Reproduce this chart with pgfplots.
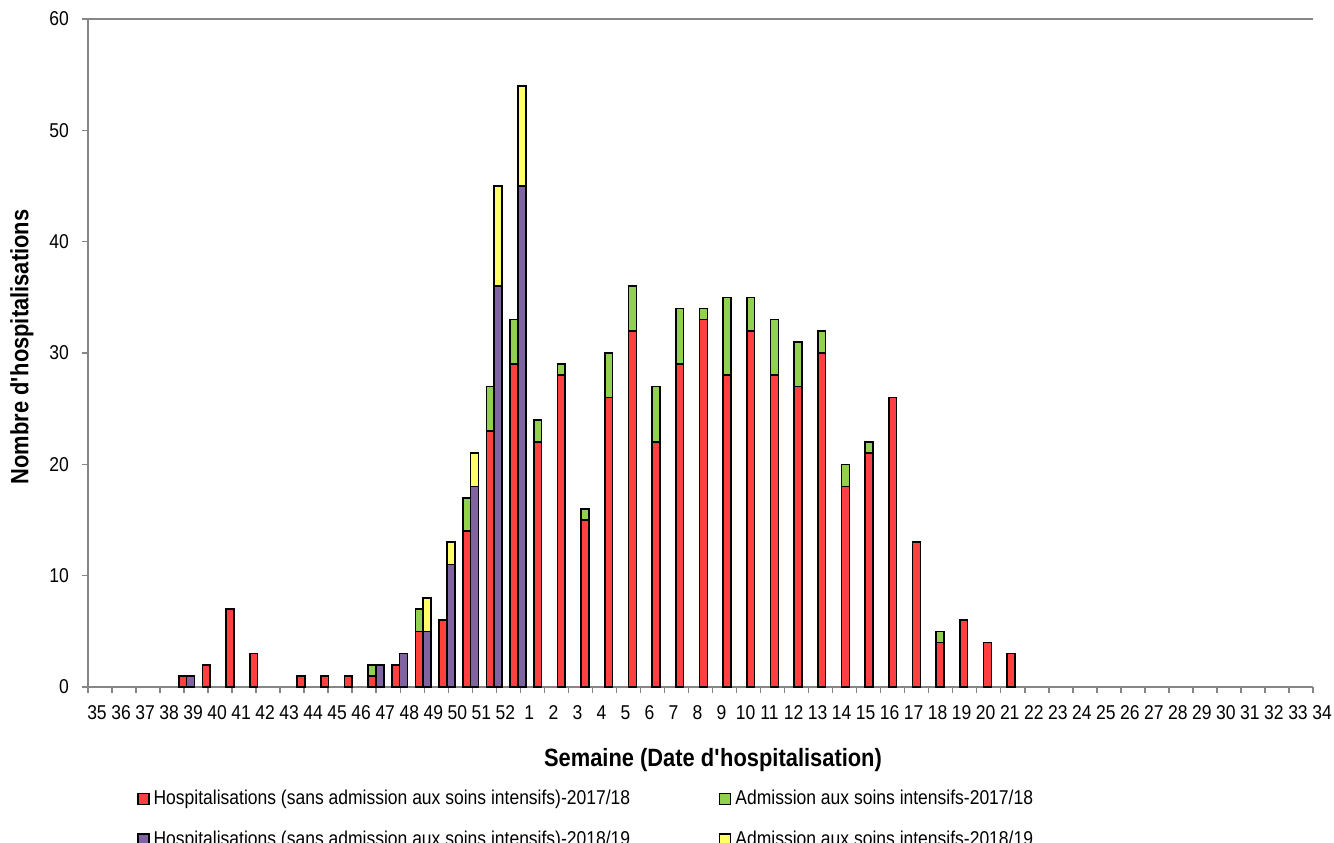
\documentclass[border=0pt]{standalone}
\usepackage{fontspec}
\setmainfont[FakeStretch=0.875]{Liberation Sans}
\usepackage{pgfplots}
\pgfplotsset{compat=1.18}
\usepackage{pgfplotstable}

\definecolor{cred}{HTML}{FF4040}
\definecolor{cgreen}{HTML}{92D050}
\definecolor{cpurple}{HTML}{8064A2}
\definecolor{cyellow}{HTML}{FFFF66}
\definecolor{axisgray}{HTML}{868686}

\pgfplotstableread{
j red green
4 1 0
5 2 0
6 7 0
7 3 0
9 1 0
10 1 0
11 1 0
12 1 1
13 2 0
14 5 2
15 6 0
16 14 3
17 23 4
18 29 4
19 22 2
20 28 1
21 15 1
22 26 4
23 32 4
24 22 5
25 29 5
26 33 1
27 28 7
28 32 3
29 28 5
30 27 4
31 30 2
32 18 2
33 21 1
34 26 0
35 13 0
36 4 1
37 6 0
38 4 0
39 3 0
}\dataA

\pgfplotstableread{
j purple yellow
4 1 0
12 2 0
13 3 0
14 5 3
15 11 2
16 18 3
17 36 9
18 45 9
}\dataB

\pgfplotsset{base/.style={scale only axis, width=612.5pt, height=334pt,
  xmin=0, xmax=51.7543, ymin=0, ymax=60, at={(0pt,0pt)}, anchor=south west, clip=false,
  ybar stacked, bar width=3.9pt}}

\newcommand{\tickfont}{\fontsize{10}{12}\selectfont}

\begin{document}
\begin{tikzpicture}
\begin{axis}[base, bar shift=0pt,
  axis x line*=bottom, axis y line*=left,
  axis line style={draw=axisgray, line width=0.75pt},
  tick align=outside, major tick length=3pt,
  every tick/.style={axisgray, line width=0.75pt},
  xtick={0, 1.0148, 2.0296, 3.0444, 4.0592, 5.0740, 6.0887, 7.1035, 8.1183, 9.1331, 10.1479, 11.1627, 12.1775, 13.1923, 14.2071, 15.2219, 16.2366, 17.2514, 18.2662, 19.2810, 20.2958, 21.3106, 22.3254, 23.3402, 24.3550, 25.3698, 26.3845, 27.3993, 28.4141, 29.4289, 30.4437, 31.4585, 32.4733, 33.4881, 34.5029, 35.5177, 36.5324, 37.5472, 38.5620, 39.5768, 40.5916, 41.6064, 42.6212, 43.6360, 44.6508, 45.6656, 46.6803, 47.6951, 48.7099, 49.7247, 50.7395, 51.7543},
  xticklabels={35,36,37,38,39,40,41,42,43,44,45,46,47,48,49,50,51,52,1,2,3,4,5,6,7,8,9,10,11,12,13,14,15,16,17,18,19,20,21,22,23,24,25,26,27,28,29,30,31,32,33,34},
  ytick={0,10,...,60},
  /pgf/number format/assume math mode=true,
  xticklabel style={font=\tickfont, xshift=4.5pt, yshift=-2.7pt},
  yticklabel style={font=\tickfont, xshift=-3pt},
  ]
\addplot[fill=cred, draw=black, line width=0.8pt] table[x=j, y=red] {\dataA};
\addplot[fill=cgreen, draw=black, line width=0.8pt] table[x=j, y=green] {\dataA};
\draw[axisgray, line width=0.75pt] (rel axis cs:0,1) -- (rel axis cs:1,1);
\end{axis}
\begin{axis}[base, bar shift=3.9pt, hide axis,
  legend columns=2,
  legend cell align=left,
  legend style={at={(axis description cs:0.04,-0.148)}, anchor=north west,
    draw=none, fill=none, inner sep=0pt, row sep=7.5pt, font=\tickfont,
    /tikz/every even column/.append style={column sep=42.5pt}},
  ]
\addlegendimage{legend image code/.code={\draw[fill=cred,draw=black,line width=0.6pt] (0pt,-2.75pt) rectangle (5.5pt,2.75pt);}}
\addlegendentry{Hospitalisations (sans admission aux soins intensifs)-2017/18}
\addlegendimage{legend image code/.code={\draw[fill=cgreen,draw=black,line width=0.6pt] (0pt,-2.75pt) rectangle (5.5pt,2.75pt);}}
\addlegendentry{Admission aux soins intensifs-2017/18}
\addlegendimage{legend image code/.code={\draw[fill=cpurple,draw=black,line width=0.6pt] (0pt,-2.75pt) rectangle (5.5pt,2.75pt);}}
\addlegendentry{Hospitalisations (sans admission aux soins intensifs)-2018/19}
\addlegendimage{legend image code/.code={\draw[fill=cyellow,draw=black,line width=0.6pt] (0pt,-2.75pt) rectangle (5.5pt,2.75pt);}}
\addlegendentry{Admission aux soins intensifs-2018/19}
\addplot[fill=cpurple, draw=black, line width=0.8pt, forget plot] table[x=j, y=purple] {\dataB};
\addplot[fill=cyellow, draw=black, line width=0.8pt, forget plot] table[x=j, y=yellow] {\dataB};
\end{axis}
\node[font=\fontsize{12.5}{15}\selectfont\bfseries] at (312.5pt,-36.5pt) {Semaine (Date d\textquotesingle hospitalisation)};
\node[font=\fontsize{12.5}{15}\selectfont\bfseries, rotate=90] at (-33pt,170pt) {Nombre d\textquotesingle hospitalisations};
\pgfresetboundingbox
\path[use as bounding box] (-44pt,-77.5pt) rectangle (623pt,343.5pt);
\end{tikzpicture}
\end{document}
